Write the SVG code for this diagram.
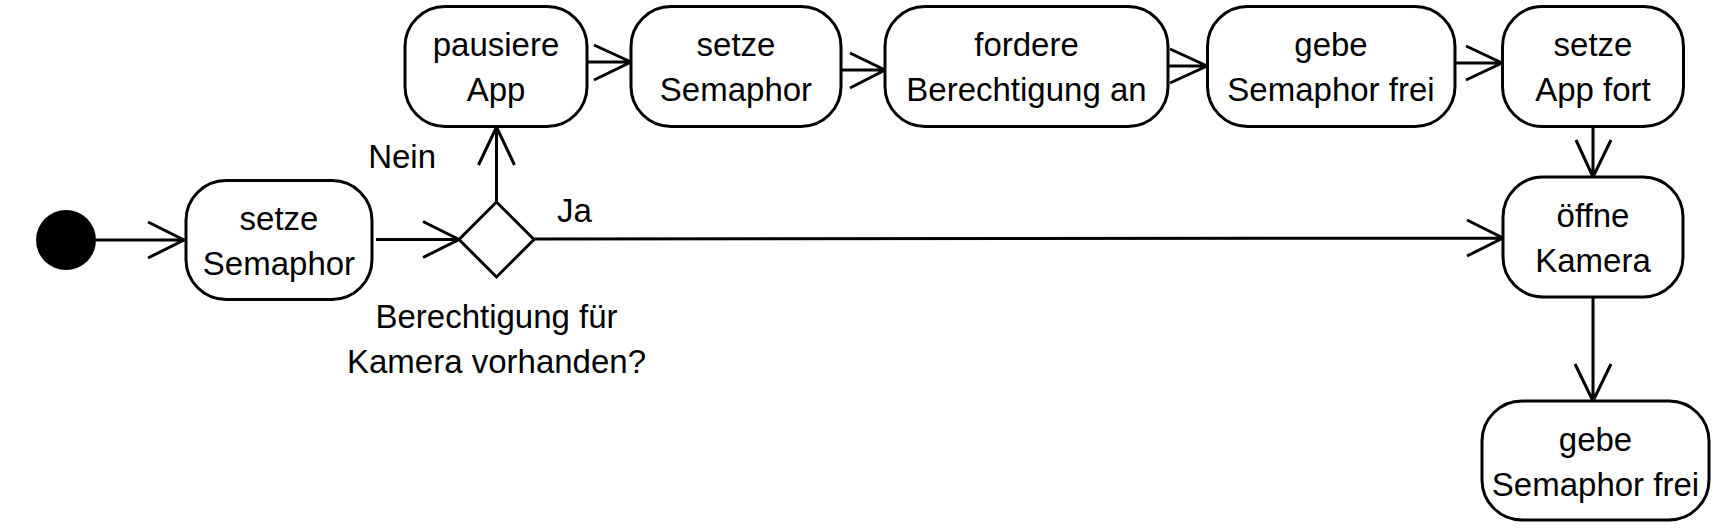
<svg xmlns="http://www.w3.org/2000/svg" width="1722" height="531" viewBox="0 0 1722 531">
<style>
.n{fill:#fff;stroke:#000;stroke-width:3}
.c{fill:none;stroke:#000;stroke-width:3}
text{font-family:"Liberation Sans",Arial,sans-serif;font-size:33px;fill:#000}
.m{text-anchor:middle}
</style>
<rect width="1722" height="531" fill="#fff"/>
<g id="connectors">
<path class="c" d="M96,240H184M148,222L184,240L148,258"/>
<path class="c" d="M376,239.5H459M423,221.5L459,239.5L423,257.5"/>
<path class="c" d="M496.5,202V127M478.5,165L496.5,127L514.5,165"/>
<path class="c" d="M587,62H631M594,45L631,62L594,80"/>
<path class="c" d="M841,70H885M850,53L885,70L850,88"/>
<path class="c" d="M1168,66H1207M1170,49L1207,66L1170,83"/>
<path class="c" d="M1455,63H1502M1466,46L1502,63L1466,80"/>
<path class="c" d="M1593,127V177M1576,140L1593,177L1611,140"/>
<path class="c" d="M534,239L1503,238M1467,220L1503,238L1467,256"/>
<path class="c" d="M1593,297V401M1575,364L1593,401L1611,364"/>
<text x="436" y="168" text-anchor="end">Nein</text>
<text x="557" y="222">Ja</text>
</g>
<g id="start"><circle cx="66" cy="240" r="30" fill="#000"/></g>
<g id="n1"><rect class="n" x="186" y="180.5" width="186" height="119" rx="40"/><text class="m" x="279" y="230">setze</text><text class="m" x="279" y="275">Semaphor</text></g>
<g id="decision"><path class="n" d="M496.5,202L534,239.5L496.5,277L459,239.5Z"/><text class="m" x="496.5" y="328">Berechtigung für</text><text class="m" x="496.5" y="373">Kamera vorhanden?</text></g>
<g id="n2"><rect class="n" x="405" y="6.5" width="182" height="120" rx="40"/><text class="m" x="496" y="56">pausiere</text><text class="m" x="496" y="101">App</text></g>
<g id="n3"><rect class="n" x="631" y="6.5" width="210" height="120" rx="40"/><text class="m" x="736" y="56">setze</text><text class="m" x="736" y="101">Semaphor</text></g>
<g id="n4"><rect class="n" x="885" y="6.5" width="283" height="120" rx="40"/><text class="m" x="1026.5" y="56">fordere</text><text class="m" x="1026.5" y="101">Berechtigung an</text></g>
<g id="n5"><rect class="n" x="1207.5" y="6.5" width="247.5" height="120" rx="40"/><text class="m" x="1331" y="56">gebe</text><text class="m" x="1331" y="101">Semaphor frei</text></g>
<g id="n6"><rect class="n" x="1502.5" y="6.5" width="181" height="120" rx="40"/><text class="m" x="1593" y="56">setze</text><text class="m" x="1593" y="101">App fort</text></g>
<g id="n7"><rect class="n" x="1503" y="177" width="180" height="120" rx="40"/><text class="m" x="1593" y="227">öffne</text><text class="m" x="1593" y="272">Kamera</text></g>
<g id="n8"><rect class="n" x="1482" y="401" width="227" height="119" rx="40"/><text class="m" x="1595.5" y="451">gebe</text><text class="m" x="1595.5" y="496">Semaphor frei</text></g>
</svg>
